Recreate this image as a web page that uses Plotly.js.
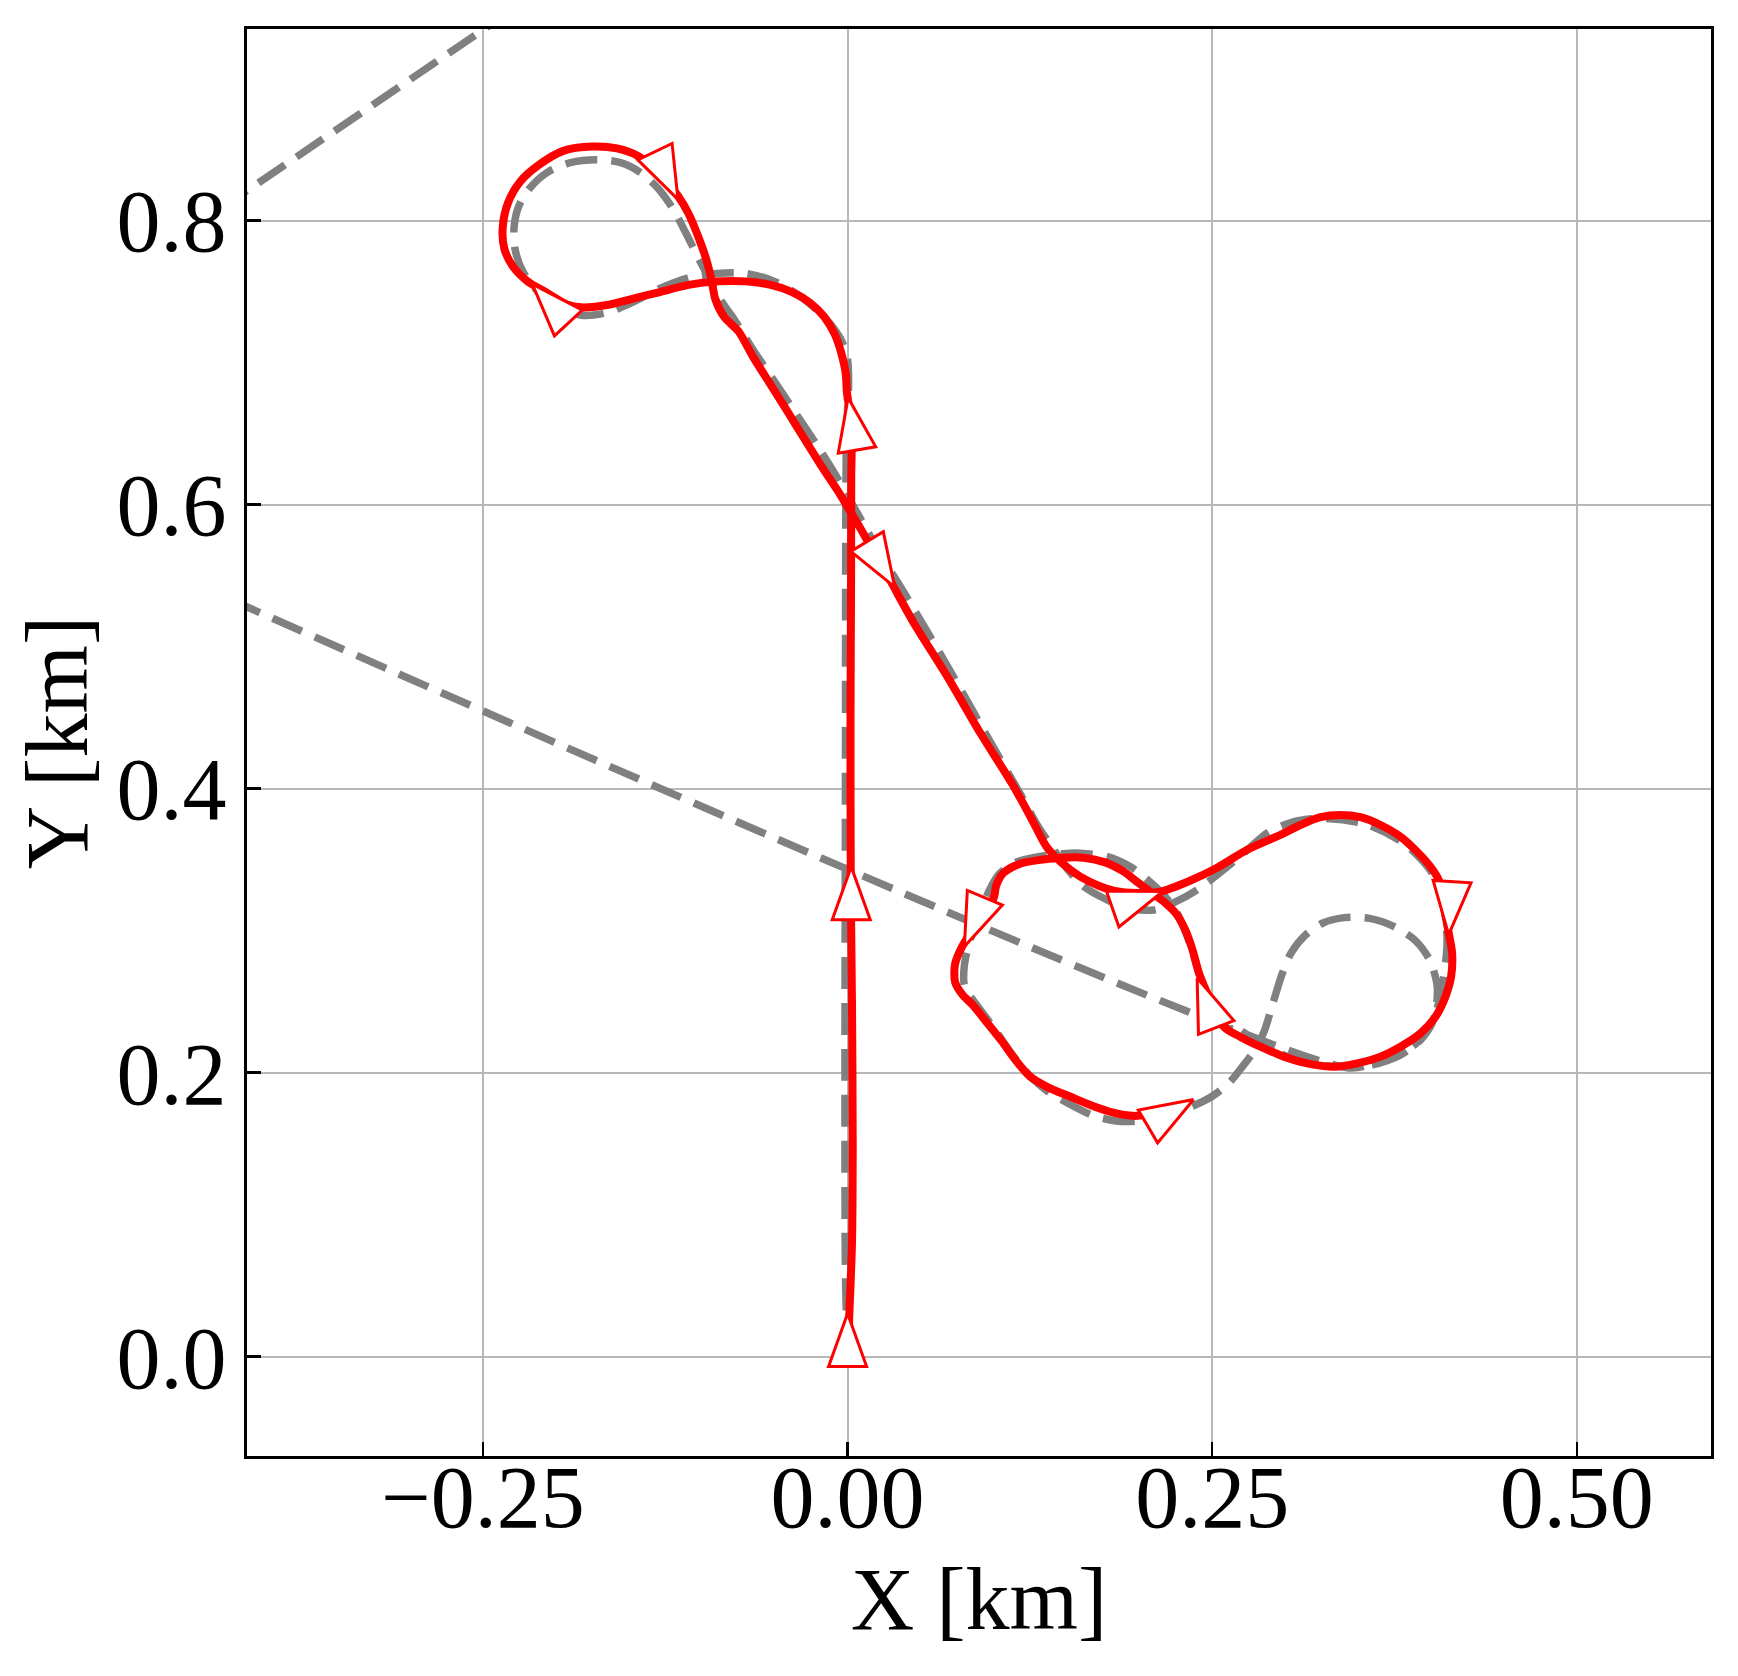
<!DOCTYPE html>
<html>
<head>
<meta charset="utf-8">
<script src="https://cdn.plot.ly/plotly-3.0.1.min.js"></script>
<style>html,body{margin:0;padding:0;background:#fff;}#chart{width:1738px;height:1676px;}</style>
</head>
<body>
<div id="chart"></div>
<script>
// ---------------- data (km) ----------------
const redX = [0,0.0012,0.003,0.0035,0.003,0.0022,0.002,0.0024,0.0025,0.0028,0.0015,-0.0005,-0.0012,-0.0037,-0.0086,-0.0159,-0.0257,-0.038,-0.0527,-0.0699,-0.0895,-0.1091,-0.1287,-0.1483,-0.163,-0.1826,-0.1924,-0.2071,-0.2194,-0.2292,-0.2353,-0.2365,-0.2328,-0.2243,-0.212,-0.1949,-0.1752,-0.1581,-0.1434,-0.1287,-0.1164,-0.1091,-0.1029,-0.0968,-0.0931,-0.0907,-0.0846,-0.0748,-0.065,-0.0527,-0.0404,-0.0282,-0.0159,-0.0061,0.0012,0.0086,0.0184,0.029,0.0455,0.0684,0.0911,0.114,0.1265,0.1365,0.1466,0.1595,0.1725,0.1832,0.1986,0.2145,0.234,0.254,0.274,0.2968,0.3105,0.3242,0.338,0.3517,0.3654,0.3791,0.3905,0.3996,0.4053,0.4088,0.4122,0.4145,0.4138,0.4099,0.4031,0.3928,0.3791,0.3654,0.3494,0.3334,0.3151,0.2991,0.2831,0.2694,0.258,0.2476,0.2411,0.2365,0.2316,0.2255,0.2182,0.2084,0.1986,0.1888,0.1766,0.1619,0.1472,0.1325,0.1178,0.1068,0.1019,0.1002,0.0897,0.0786,0.0737,0.0737,0.0786,0.086,0.0958,0.1056,0.1154,0.1252,0.1374,0.1521,0.1668,0.1815,0.1961,0.21];
const redY = [0,0.03,0.08,0.15,0.25,0.33,0.45,0.55,0.62,0.645,0.665,0.6792,0.6918,0.7044,0.7195,0.7321,0.7421,0.7497,0.7547,0.7572,0.7572,0.7547,0.7497,0.7447,0.7409,0.7389,0.7409,0.7497,0.7572,0.7673,0.7799,0.795,0.8126,0.8277,0.839,0.8491,0.8521,0.8508,0.8453,0.8327,0.8176,0.805,0.79,0.7723,0.7572,0.7447,0.7321,0.722,0.7044,0.6843,0.6642,0.644,0.6239,0.6088,0.5962,0.5836,0.566,0.547,0.5165,0.4789,0.439,0.4014,0.378,0.359,0.348,0.338,0.3315,0.328,0.3265,0.3275,0.3348,0.3447,0.357,0.3675,0.3744,0.3799,0.3815,0.3799,0.3744,0.3662,0.3556,0.3451,0.3357,0.3169,0.2982,0.2841,0.2676,0.2535,0.2394,0.2277,0.2183,0.2113,0.2066,0.2042,0.2066,0.2113,0.2183,0.2252,0.2324,0.2538,0.2695,0.2865,0.3003,0.3117,0.3192,0.3268,0.3343,0.3419,0.3481,0.3514,0.3514,0.3499,0.3469,0.3406,0.3318,0.323,0.3066,0.289,0.2765,0.2639,0.2551,0.2475,0.235,0.2224,0.2086,0.1972,0.1897,0.1834,0.1771,0.1721,0.1696,0.171];

const refX = [0,-0.0015,-0.0018,-0.0015,-0.0012,-0.0007,0.0007,0.0,-0.0037,-0.0098,-0.0184,-0.0331,-0.0502,-0.0699,-0.0895,-0.1091,-0.1287,-0.1483,-0.1654,-0.1826,-0.1973,-0.212,-0.223,-0.228,-0.2287,-0.2255,-0.2181,-0.2059,-0.19,-0.1716,-0.1556,-0.1422,-0.1299,-0.1201,-0.1115,-0.1029,-0.0944,-0.0858,-0.0772,-0.065,-0.0502,-0.0355,-0.0208,-0.0086,0.0012,0.011,0.0233,0.0355,0.0502,0.072,0.095,0.118,0.13,0.1398,0.1509,0.162,0.178,0.1917,0.21,0.2237,0.2397,0.2603,0.274,0.288,0.305,0.3254,0.3551,0.3814,0.3985,0.4065,0.41,0.411,0.4085,0.4035,0.395,0.38,0.36,0.338,0.318,0.3,0.283,0.268,0.256,0.247,0.241,0.236,0.231,0.224,0.214,0.2031,0.194,0.178,0.1597,0.1496,0.13,0.115,0.104,0.097,0.09,0.083,0.08,0.08,0.084,0.092,0.102,0.112,0.123,0.137,0.152,0.168,0.184,0.2,0.215,0.2353,0.25,0.2622,0.272,0.2794,0.2855,0.2916,0.2977,0.3039,0.3136,0.3259,0.3406,0.3577,0.3748,0.3895,0.3993,0.4042,0.4037,0.4008,0.3928,0.3791,0.3608,0.3426,-0.43];
const refY = [0,0.06,0.2,0.4,0.6,0.65,0.687,0.702,0.7145,0.7245,0.7346,0.7472,0.7572,0.7628,0.7628,0.7597,0.7522,0.7421,0.7351,0.7333,0.7384,0.7497,0.7648,0.7799,0.795,0.8101,0.8226,0.834,0.8408,0.8428,0.8408,0.834,0.8226,0.8088,0.7925,0.7748,0.7585,0.7421,0.7296,0.7094,0.6868,0.6642,0.6415,0.6214,0.6038,0.5862,0.5635,0.5434,0.5182,0.48,0.438,0.397,0.3745,0.3595,0.3431,0.331,0.3216,0.3158,0.3146,0.3197,0.3287,0.345,0.3568,0.369,0.3765,0.3791,0.3751,0.3615,0.3439,0.3287,0.31,0.29,0.266,0.243,0.226,0.213,0.2055,0.2042,0.2065,0.212,0.221,0.231,0.242,0.255,0.27,0.287,0.301,0.316,0.328,0.338,0.345,0.3521,0.3545,0.3544,0.352,0.348,0.34,0.328,0.31,0.29,0.275,0.262,0.254,0.243,0.229,0.214,0.2,0.187,0.178,0.17,0.166,0.166,0.169,0.1759,0.1834,0.1935,0.206,0.2161,0.2287,0.2488,0.2689,0.284,0.2966,0.3054,0.3092,0.3087,0.3029,0.2928,0.279,0.2614,0.2463,0.2348,0.223,0.2125,0.2066,0.2035,0.5362];

const legX = [-0.43,-0.23];
const legY = [0.8083,0.9483];

// waypoint markers: centre and heading (deg, counter-clockwise from +X)
const wpX = [0.0,0.0025,0.0034,-0.1242,-0.2038,0.0228,0.0871,0.1989,0.2462,0.4133,0.2216];
const wpY = [0.0118,0.3263,0.6569,0.8317,0.7416,0.558,0.306,0.3214,0.2492,0.3159,0.1716];
const wpHeading = [90,90,99.6,-64.3,132.8,-58.7,-112.7,19.3,111.1,-93.7,30.5];

const xTickVals = [-0.25,0,0.25,0.5];
const xTickText = ['\u22120.25','0.00','0.25','0.50'];
const yTickVals = [0,0.2,0.4,0.6,0.8];
const yTickText = ['0.0','0.2','0.4','0.6','0.8'];

// ---------------- layout ----------------
const W = 1738, Hh = 1676;
const M = {l:247, r:27, t:29, b:220};
const xRange = [-0.4118, 0.5920];
const yRange = [-0.0699, 0.9349];
const plotW = W - M.l - M.r, plotH = Hh - M.t - M.b;
const kx = plotW/(xRange[1]-xRange[0]);
const ky = plotH/(yRange[1]-yRange[0]);

// triangles built from waypoint data (pixel size -> data units via axis scale)
const TH = 53, TB = 38;
const triX = [], triY = [];
for (let i=0;i<wpX.length;i++){
  const a = wpHeading[i]*Math.PI/180;
  const ux = Math.cos(a), uy = Math.sin(a);
  const nx = -uy, ny = ux;
  const pts = [
    [ TH/2*ux, TH/2*uy],
    [-TH/2*ux + TB/2*nx, -TH/2*uy + TB/2*ny],
    [-TH/2*ux - TB/2*nx, -TH/2*uy - TB/2*ny]
  ];
  pts.push(pts[0]);
  pts.forEach(p=>{ triX.push(wpX[i]+p[0]/kx); triY.push(wpY[i]+p[1]/ky); });
  triX.push(null); triY.push(null);
}

const font = {family:'"Liberation Serif","Times New Roman",serif', size:88, color:'#000'};
const dash = '32px,14px';

const traces = [
  {x:legX, y:legY, mode:'lines', line:{color:'#808080', width:7.5, dash:dash}, hoverinfo:'skip'},
  {x:refX, y:refY, mode:'lines', line:{color:'#808080', width:7.5, dash:dash, shape:'spline', smoothing:0.8}, hoverinfo:'skip'},
  {x:redX, y:redY, mode:'lines', line:{color:'#ff0000', width:8, shape:'spline', smoothing:0.8}, hoverinfo:'skip'},
  {x:triX, y:triY, mode:'lines', fill:'toself', fillcolor:'#ffffff', line:{color:'#ff0000', width:3}, hoverinfo:'skip'}
];

const layout = {
  width:W, height:Hh, margin:M, showlegend:false,
  paper_bgcolor:'#fff', plot_bgcolor:'#fff',
  font:font,
  xaxis:{range:xRange, tickvals:xTickVals, ticktext:xTickText, ticks:'inside', ticklen:14, tickwidth:2.5, tickcolor:'#000',
    showline:true, linecolor:'#000', linewidth:3, mirror:true, showgrid:true, gridcolor:'#b8b8b8', gridwidth:2,
    zeroline:false, tickfont:font, ticklabelstandoff:-38,
    title:{text:'X [km]', font:font, standoff:23}, automargin:false},
  yaxis:{range:yRange, tickvals:yTickVals, ticktext:yTickText, ticks:'inside', ticklen:14, tickwidth:2.5, tickcolor:'#000',
    showline:true, linecolor:'#000', linewidth:3, mirror:true, showgrid:true, gridcolor:'#b8b8b8', gridwidth:2,
    zeroline:false, tickfont:font, ticklabelstandoff:0,
    title:{text:'Y [km]', font:font, standoff:0}, automargin:false}
};

Plotly.newPlot('chart', traces, layout, {staticPlot:true, displayModeBar:false});
</script>
</body>
</html>
